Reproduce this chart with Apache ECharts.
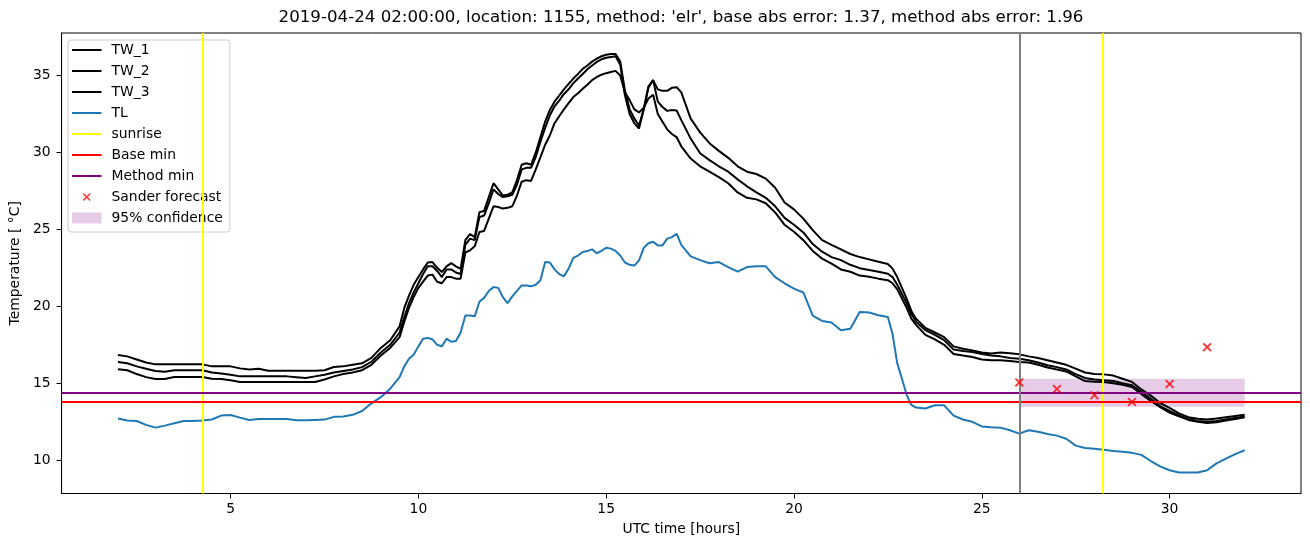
<!DOCTYPE html>
<html><head><meta charset="utf-8">
<script src="https://cdn.jsdelivr.net/npm/echarts@6/dist/echarts.min.js"></script>
<style>html,body{margin:0;padding:0;background:#fff}#c{width:1310px;height:547px}</style>
</head><body><div id="c"></div>
<script>
// sample times (UTC hours), one row per hour
const hours = [
 2,2.25,2.5,2.75,
 3,3.25,3.5,3.75,
 4,4.25,4.5,4.75,
 5,5.25,5.5,5.75,
 6,6.25,6.5,6.75,
 7,7.25,7.5,7.75,
 8,8.25,8.5,8.75,
 9,9.25,9.5,9.625,9.75,9.875,
 10,10.125,10.25,10.375,10.5,10.625,10.75,10.875,
 11,11.125,11.25,11.375,11.5,11.625,11.75,11.875,
 12,12.125,12.25,12.375,12.5,12.625,12.75,12.875,
 13,13.125,13.25,13.375,13.5,13.625,13.75,13.875,
 14,14.125,14.25,14.375,14.5,14.625,14.75,14.875,
 15,15.125,15.25,15.375,15.5,15.625,15.75,15.875,
 16,16.125,16.25,16.375,16.5,16.625,16.75,16.875,
 17,17.25,17.5,17.75,
 18,18.25,18.5,18.75,
 19,19.25,19.5,19.75,
 20,20.25,20.5,20.75,
 21,21.25,21.5,21.75,
 22,22.25,22.5,22.625,22.75,22.875,
 23,23.125,23.25,23.5,23.75,
 24,24.25,24.5,24.75,
 25,25.25,25.5,25.75,
 26,26.25,26.5,26.75,
 27,27.25,27.5,27.75,
 28,28.25,28.5,28.75,
 29,29.25,29.5,29.75,
 30,30.25,30.5,30.75,
 31,31.25,31.5,31.75,
 32
];
const tw1 = [
 16.84,16.75,16.55,16.35,
 16.23,16.23,16.23,16.23,
 16.23,16.23,16.1,16.1,
 16.1,15.97,15.9,15.95,
 15.82,15.82,15.82,15.82,
 15.82,15.82,15.85,16.06,
 16.1,16.2,16.3,16.65,
 17.3,17.8,18.7,19.9,20.7,21.4,
 21.9,22.4,22.85,22.88,22.5,22.23,22.6,22.81,
 22.6,22.44,24.3,24.7,24.5,26.12,26.2,27.1,
 28.0,27.6,27.2,27.25,27.4,28.2,29.2,29.3,
 29.2,30.0,31.0,32.0,32.75,33.3,33.7,34.1,
 34.45,34.8,35.1,35.43,35.65,35.9,36.1,36.25,
 36.35,36.4,36.4,35.9,34.0,32.8,32.2,31.75,
 32.8,34.3,34.7,34.1,34.0,34.0,34.2,34.24,
 33.9,32.2,31.3,30.6,
 30.1,29.65,29.1,28.75,
 28.6,28.3,27.7,26.75,
 26.3,25.7,24.95,24.3,
 24.0,23.7,23.4,23.2,
 23.05,22.9,22.75,22.45,21.9,21.2,
 20.5,19.7,19.2,18.6,18.3,
 18.0,17.4,17.25,17.14,
 17.0,16.93,17.0,16.95,
 16.88,16.75,16.65,16.5,
 16.35,16.2,15.95,15.7,
 15.6,15.58,15.5,15.3,
 15.09,14.6,14.2,13.72,
 13.4,13.05,12.8,12.7,
 12.65,12.72,12.8,12.88,
 12.95
];
const tw2 = [
 16.39,16.3,16.1,15.95,
 15.8,15.75,15.85,15.85,
 15.85,15.85,15.7,15.63,
 15.55,15.45,15.45,15.45,
 15.45,15.45,15.45,15.4,
 15.35,15.45,15.55,15.7,
 15.8,15.9,16.05,16.4,
 17.0,17.5,18.3,19.3,20.2,20.9,
 21.5,22.1,22.6,22.6,22.3,21.9,22.4,22.4,
 22.2,22.1,24.0,24.4,24.3,25.8,25.9,26.7,
 27.6,27.3,27.1,27.15,27.25,27.9,28.9,29.0,
 29.0,29.7,30.7,31.6,32.4,33.0,33.37,33.8,
 34.1,34.5,34.8,35.1,35.4,35.65,35.88,36.05,
 36.15,36.2,36.25,35.7,33.7,32.5,31.9,31.55,
 32.8,34.2,34.7,33.3,32.95,32.7,32.75,32.73,
 32.1,30.9,29.95,29.5,
 29.1,28.75,28.25,27.8,
 27.4,27.05,26.5,25.75,
 25.3,24.8,24.05,23.55,
 23.2,23.0,22.7,22.48,
 22.36,22.25,22.12,21.9,21.4,20.8,
 20.2,19.5,19.0,18.45,18.15,
 17.8,17.2,17.1,17.03,
 16.9,16.8,16.75,16.65,
 16.6,16.5,16.35,16.17,
 16.05,15.9,15.6,15.35,
 15.25,15.2,15.15,15.0,
 14.87,14.45,14.0,13.52,
 13.2,12.92,12.68,12.55,
 12.5,12.55,12.65,12.75,
 12.85
];
const tw3 = [
 15.91,15.85,15.6,15.4,
 15.28,15.28,15.41,15.41,
 15.41,15.41,15.3,15.28,
 15.2,15.09,15.09,15.09,
 15.09,15.09,15.09,15.09,
 15.09,15.09,15.25,15.45,
 15.6,15.7,15.85,16.2,
 16.8,17.3,18.0,19.0,19.9,20.6,
 21.2,21.6,22.0,22.06,21.6,21.5,21.9,21.9,
 21.8,21.8,23.5,23.64,23.9,24.83,24.9,25.7,
 26.5,26.45,26.35,26.4,26.5,27.2,28.1,28.2,
 28.15,28.9,29.7,30.5,31.1,31.9,32.35,32.8,
 33.2,33.6,33.85,34.13,34.4,34.7,34.9,35.05,
 35.15,35.23,35.3,35.0,33.9,33.4,32.8,32.6,
 32.9,33.5,33.75,32.5,32.0,31.5,31.2,31.0,
 30.4,29.6,29.1,28.75,
 28.4,28.0,27.4,27.05,
 26.95,26.7,26.1,25.3,
 24.85,24.3,23.6,23.1,
 22.78,22.4,22.25,22.0,
 21.92,21.8,21.7,21.5,21.1,20.5,
 19.9,19.2,18.8,18.15,17.85,
 17.5,16.9,16.8,16.71,
 16.55,16.49,16.5,16.45,
 16.38,16.35,16.2,16.03,
 15.9,15.77,15.45,15.15,
 15.1,15.09,15.0,14.9,
 14.76,14.3,13.85,13.45,
 13.1,12.85,12.62,12.5,
 12.42,12.47,12.58,12.68,
 12.8
];
const tl = [
 12.71,12.58,12.55,12.3,
 12.12,12.25,12.4,12.55,
 12.55,12.59,12.65,12.9,
 12.94,12.77,12.62,12.68,
 12.68,12.68,12.68,12.6,
 12.6,12.62,12.64,12.82,
 12.85,12.95,13.2,13.7,
 14.1,14.65,15.4,16.1,16.6,16.85,
 17.4,17.9,17.95,17.85,17.5,17.4,17.9,17.7,
 17.75,18.3,19.4,19.4,19.35,20.3,20.55,21.0,
 21.25,21.2,20.6,20.2,20.65,21.0,21.36,21.36,
 21.3,21.4,21.7,22.88,22.85,22.4,22.1,21.95,
 22.45,23.15,23.3,23.53,23.6,23.7,23.45,23.6,
 23.81,23.75,23.6,23.3,22.85,22.7,22.65,22.99,
 23.8,24.1,24.2,23.96,23.96,24.4,24.5,24.72,
 24.0,23.25,23.0,22.8,
 22.88,22.55,22.25,22.55,
 22.6,22.6,21.9,21.5,
 21.15,20.9,19.4,19.05,
 18.95,18.45,18.55,19.63,
 19.6,19.42,19.31,18.2,16.3,15.3,
 14.25,13.6,13.42,13.36,13.57,
 13.57,12.9,12.65,12.5,
 12.2,12.14,12.12,11.95,
 11.73,11.95,11.85,11.7,
 11.6,11.4,10.95,10.8,
 10.75,10.68,10.6,10.55,
 10.48,10.35,9.95,9.6,
 9.35,9.21,9.21,9.21,
 9.35,9.8,10.1,10.4,
 10.65
];
const sunrise = [4.26, 28.22];
const forecastStart = [26];
const baseMin = [13.8];
const methodMin = [14.37];
const forecastHours = [26, 27, 28, 29, 30, 31];
const forecastValues = [15.06, 14.63, 14.23, 13.78, 14.95, 17.35];
const confidenceHours = [26, 32];
const confidenceBounds = [13.48, 15.29];
const xTicks = [5, 10, 15, 20, 25, 30];
const yTicks = [10, 15, 20, 25, 30, 35];
const titleText = "2019-04-24 02:00:00, location: 1155, method: 'elr', base abs error: 1.37, method abs error: 1.96";

const FONT = 'DejaVu Sans';
const zip = (xs, ys) => ys.map((v, i) => [xs[i], v]);
const xMark = 'path://M0,1.4L1.4,0L5,3.6L8.6,0L10,1.4L6.4,5L10,8.6L8.6,10L5,6.4L1.4,10L0,8.6L3.6,5Z';
const legendLine = 'path://M0,0M0,4.5L30,4.5L30,6.5L0,6.5ZM30,11';
const legendX = 'path://M0,0M1.5,2.62L2.62,1.5L5.5,4.38L8.38,1.5L9.5,2.62L6.62,5.5L9.5,8.38L8.38,9.5L5.5,6.62L2.62,9.5L1.5,8.38L4.38,5.5ZM11,11';

function lineSeries(name, data, color) {
  return {name, type: 'line', data, symbol: 'none', showSymbol: false, color,
    lineStyle: {color, width: 2}, silent: true, z: 3};
}
function markLineSeries(name, color, items) {
  return {name, type: 'line', data: [], symbol: 'none', color,
    lineStyle: {color, width: 2}, z: 4,
    markLine: {symbol: ['none', 'none'], silent: true, animation: false, label: {show: false},
      lineStyle: {color, width: 2, type: 'solid'}, emphasis: {disabled: true}, data: items}};
}

const chart = echarts.init(document.getElementById('c'), null, {renderer: 'canvas'});
chart.setOption({
  animation: false,
  backgroundColor: '#fff',
  textStyle: {fontFamily: FONT},
  grid: {left: 61, right: 9, top: 33, bottom: 53.5, show: true, borderColor: '#000', borderWidth: 1, backgroundColor: 'transparent'},
  graphic: [{type: 'text', x: 681, y: 18, style: {text: titleText, align: 'center', verticalAlign: 'middle',
    font: '16.67px "DejaVu Sans"', fill: '#000'}}],
  legend: {
    orient: 'vertical', left: 68, top: 40, padding: [3, 7, 7, 4], itemWidth: 29.5, itemHeight: 11, itemGap: 7,
    backgroundColor: 'rgba(255,255,255,0.8)', borderColor: '#cccccc', borderWidth: 1, borderRadius: 3,
    textStyle: {fontFamily: FONT, fontSize: 13.9, color: '#000', padding: [0, 0, 0, 5]},
    selectedMode: false,
    data: [
      {name: 'TW_1', icon: legendLine}, {name: 'TW_2', icon: legendLine}, {name: 'TW_3', icon: legendLine},
      {name: 'TL', icon: legendLine}, {name: 'sunrise', icon: legendLine}, {name: 'Base min', icon: legendLine},
      {name: 'Method min', icon: legendLine},
      {name: 'Sander forecast', icon: legendX}, {name: '95% confidence', icon: 'rect'}
    ]
  },
  xAxis: {
    type: 'value', min: 0.5, max: 33.5,
    name: 'UTC time [hours]', nameLocation: 'middle', nameGap: 29,
    nameTextStyle: {fontFamily: FONT, fontSize: 13.9, color: '#000'},
    axisLine: {show: true, onZero: false, lineStyle: {color: '#000', width: 1}},
    axisTick: {show: true, length: 5, lineStyle: {color: '#000', width: 1}, customValues: xTicks},
    axisLabel: {customValues: xTicks, color: '#000', fontFamily: FONT, fontSize: 13.9, margin: 9},
    splitLine: {show: false}
  },
  yAxis: {
    type: 'value', min: 7.84, max: 37.76,
    name: 'Temperature [ °C]', nameLocation: 'middle', nameGap: 37, nameRotate: 90,
    nameTextStyle: {fontFamily: FONT, fontSize: 13.9, color: '#000'},
    axisLine: {show: true, onZero: false, lineStyle: {color: '#000', width: 1}},
    axisTick: {show: true, length: 5, lineStyle: {color: '#000', width: 1}, customValues: yTicks},
    axisLabel: {customValues: yTicks, color: '#000', fontFamily: FONT, fontSize: 13.9, margin: 11},
    splitLine: {show: false}
  },
  series: [
    {name: '95% confidence', type: 'line', data: [], symbol: 'none', color: 'rgba(128,0,128,0.2)', z: 1,
      markArea: {silent: true, itemStyle: {color: 'rgba(128,0,128,0.2)'}, emphasis: {disabled: true},
        data: [[{xAxis: confidenceHours[0], yAxis: confidenceBounds[0]}, {xAxis: confidenceHours[1], yAxis: confidenceBounds[1]}]]}},
    lineSeries('TW_1', zip(hours, tw1), '#000000'),
    lineSeries('TW_2', zip(hours, tw2), '#000000'),
    lineSeries('TW_3', zip(hours, tw3), '#000000'),
    lineSeries('TL', zip(hours, tl), '#1f77b4'),
    markLineSeries('sunrise', '#ffff00', sunrise.map(v => ({xAxis: v}))),
    markLineSeries('Base min', '#ff0000', baseMin.map(v => ({yAxis: v}))),
    markLineSeries('Method min', '#800080', methodMin.map(v => ({yAxis: v}))),
    markLineSeries('forecast start', '#808080', forecastStart.map(v => ({xAxis: v}))),
    {name: 'Sander forecast', type: 'scatter', data: zip(forecastHours, forecastValues), symbol: xMark, symbolSize: 9,
      itemStyle: {color: '#ff0000'}, silent: true, z: 6}
  ]
});
</script></body></html>
